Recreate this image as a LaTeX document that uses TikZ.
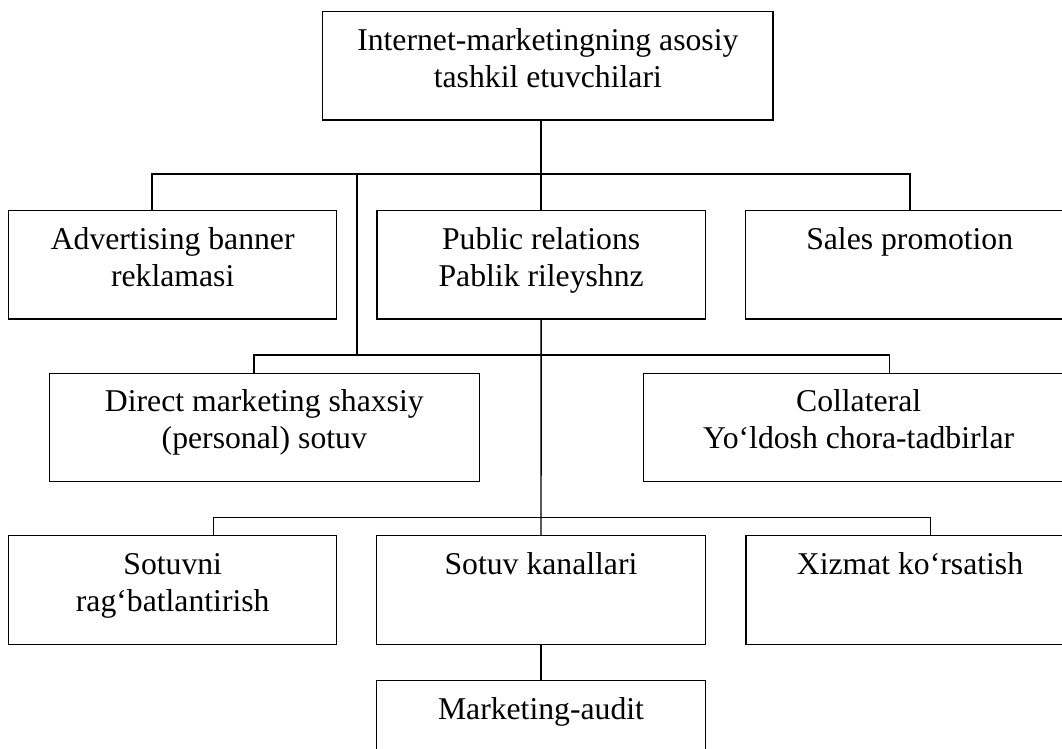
\documentclass[tikz,border=0pt]{standalone}
\usepackage{fontspec}
\setmainfont{Liberation Serif}

% one box of the chart: width, height, centred lines set from the top
\newcommand{\cell}[3]{%
  \parbox[c][#2pt][t]{#1pt}{\centering\fontsize{31.7}{37.2}\selectfont
    \vspace*{12.3pt}\strut #3}}

\tikzset{
  box/.style={draw, line width=1.4pt, inner sep=0pt, outer sep=0pt, anchor=north west},
  link/.style={line width=1.4pt},
}

\begin{document}
\begin{tikzpicture}[x=1pt, y=-1pt]
\useasboundingbox (0,0) rectangle (1062,749);
\clip (0,0) rectangle (1062,749);
\fill[white] (0,0) rectangle (1062,749);

% boxes
\node[box] (top)   at (322.7,11.7)  {\cell{450.3}{108.3}{Internet-marketingning asosiy\\tashkil etuvchilari}};

\node[box] (adv)   at (8.7,210.7)   {\cell{328}{108.3}{Advertising banner\\reklamasi}};
\node[box] (pr)    at (377,210.7)   {\cell{328.3}{108.3}{Public relations\\Pablik rileyshnz}};
\node[box] (sales) at (745.7,210.7) {\cell{328}{108.3}{Sales promotion}};

\node[box] (direct) at (49.3,373.3)  {\cell{430}{108}{Direct marketing shaxsiy\\(personal) sotuv}};
\node[box] (coll)   at (643.6,373.3) {\cell{430}{108}{Collateral\\Yo‘ldosh chora-tadbirlar}};

\node[box] (sotuvni) at (8.7,535.7)  {\cell{328}{108.8}{Sotuvni\\rag‘batlantirish}};
\node[box] (kanal)   at (376.7,535.7) {\cell{328.6}{108.8}{Sotuv kanallari}};
\node[box] (xizmat)  at (746,535.7)  {\cell{328}{108.8}{Xizmat ko‘rsatish}};

\node[box] (audit)   at (376.7,680.7) {\cell{328.6}{108.8}{Marketing-audit}};

% branch points of the three buses
\coordinate (b1w) at (152,174);
\coordinate (b1e) at (910,174);
\coordinate (b1m) at (357,174);
\coordinate (b2w) at (254,355);
\coordinate (b2e) at (889.6,355);
\coordinate (b3w) at (213.4,517.7);
\coordinate (b3e) at (930.2,517.7);

% first level
\draw[link] (top.south -| pr.north) -- (pr.north);
\draw[link] (adv.north -| b1w) -- (b1w) -- (b1e) -- (sales.north -| b1e);

% second level
\draw[link] (b1m) -- (b1m |- b2w);
\draw[link] (direct.north -| b2w) -- (b2w) -- (b2e) -- (coll.north -| b2e);

% third level
\draw[link] (pr.south) -- (kanal.north);
\draw[link] (sotuvni.north -| b3w) -- (b3w) -- (b3e) -- (xizmat.north -| b3e);

% fourth level
\draw[link] (kanal.south) -- (audit.north);
\end{tikzpicture}
\end{document}
